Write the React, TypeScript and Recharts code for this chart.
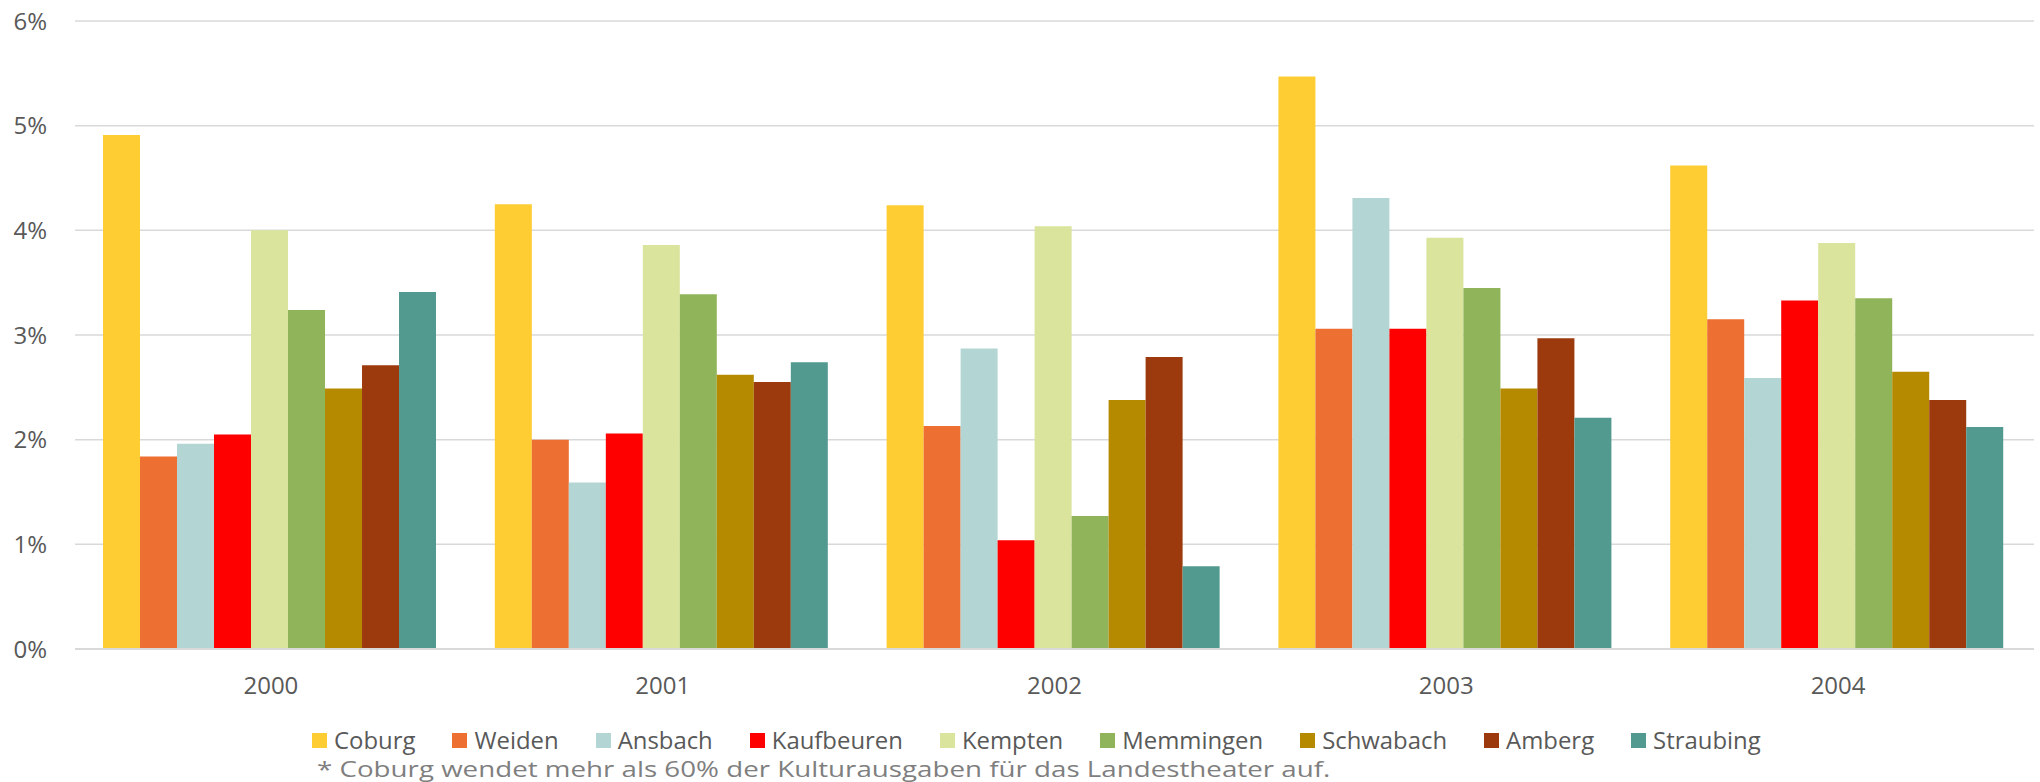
import React from 'react';
import { BarChart, Bar, XAxis, YAxis, CartesianGrid, Legend } from 'recharts';

const years = ['2000', '2001', '2002', '2003', '2004'];
const cities = ['Coburg', 'Weiden', 'Ansbach', 'Kaufbeuren', 'Kempten', 'Memmingen', 'Schwabach', 'Amberg', 'Straubing'];

const coburg = [4.91, 4.25, 4.24, 5.47, 4.62];
const weiden = [1.84, 2.0, 2.13, 3.06, 3.15];
const ansbach = [1.96, 1.59, 2.87, 4.31, 2.59];
const kaufbeuren = [2.05, 2.06, 1.04, 3.06, 3.33];
const kempten = [4.0, 3.86, 4.04, 3.93, 3.88];
const memmingen = [3.24, 3.39, 1.27, 3.45, 3.35];
const schwabach = [2.49, 2.62, 2.38, 2.49, 2.65];
const amberg = [2.71, 2.55, 2.79, 2.97, 2.38];
const straubing = [3.41, 2.74, 0.79, 2.21, 2.12];

const yTicks = [0, 1, 2, 3, 4, 5, 6];
const footnote = '* Coburg wendet mehr als 60% der Kulturausgaben für das Landestheater auf.';

const colors = ['#FECC33', '#ED7032', '#B3D6D4', '#FF0000', '#DAE49C', '#90B45A', '#B68A00', '#9C3A0E', '#52998F'];

const seriesValues = [coburg, weiden, ansbach, kaufbeuren, kempten, memmingen, schwabach, amberg, straubing];

const data = years.map((y, i) => {
  const row: Record<string, any> = { year: y };
  cities.forEach((c, j) => {
    row[c] = seriesValues[j][i];
  });
  return row;
});

const FONT = '"Open Sans", Lato, sans-serif';

const renderLegend = () => {
  return (
    <div style={{ fontFamily: FONT }}>
      <div style={{ display: 'flex', alignItems: 'center', height: 28, fontSize: 23.9, color: '#595959', lineHeight: '28px', whiteSpace: 'nowrap' }}>
        {cities.map((c, j) => (
          <div key={c} style={{ display: 'flex', alignItems: 'center', marginRight: 37 }}>
            <span style={{ width: 15, height: 15, background: colors[j], marginRight: 7, display: 'inline-block' }} />
            <span>{c}</span>
          </div>
        ))}
      </div>
      <div
        style={{
          fontSize: 22,
          color: '#7F7F7F',
          lineHeight: '28px',
          height: 28,
          whiteSpace: 'nowrap',
          marginLeft: 5,
          transform: 'scaleX(1.26)',
          transformOrigin: 'left center',
        }}
      >
        {footnote}
      </div>
    </div>
  );
};

export default function App() {
  return (
    <div style={{ position: 'absolute', left: 0, top: 0, width: 2040, height: 782, background: '#fff' }}>
      <BarChart
        width={2040}
        height={782}
        data={data}
        margin={{ top: 21, right: 6, bottom: 93, left: 0 }}
        barCategoryGap="7.15%"
        barGap={0}
      >
        <CartesianGrid vertical={false} stroke="#D9D9D9" strokeWidth={1.5} />
        <XAxis
          dataKey="year"
          height={40}
          tickLine={false}
          tickSize={0}
          tickMargin={28}
          axisLine={{ stroke: '#D9D9D9', strokeWidth: 2 }}
          tick={{ fontFamily: FONT, fontSize: 24, fill: '#595959' }}
        />
        <YAxis
          width={75}
          domain={[0, 6]}
          ticks={yTicks}
          tickLine={false}
          axisLine={false}
          tickSize={0}
          tickMargin={28}
          tickFormatter={(v: number) => `${v}%`}
          tick={{ fontFamily: FONT, fontSize: 24, fill: '#595959' }}
        />
        <Legend
          layout="horizontal"
          verticalAlign="middle"
          align="center"
          content={renderLegend}
          wrapperStyle={{ left: 312, top: 726, width: 1700, height: 56 }}
        />
        {cities.map((c, j) => (
          <Bar key={c} dataKey={c} fill={colors[j]} isAnimationActive={false} />
        ))}
      </BarChart>
    </div>
  );
}
